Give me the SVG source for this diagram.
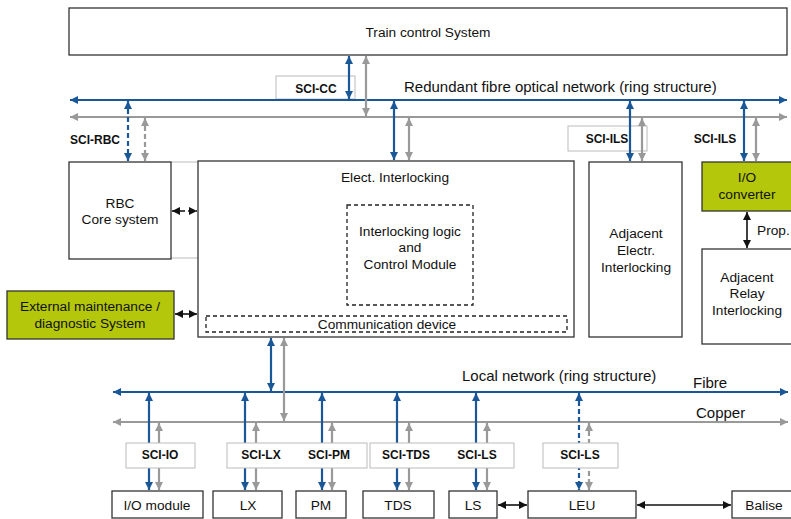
<svg xmlns="http://www.w3.org/2000/svg" width="791" height="519" viewBox="0 0 791 519">
<defs>
<marker id="ab" viewBox="0 0 8 8" refX="8" refY="4" markerWidth="8" markerHeight="8" markerUnits="userSpaceOnUse" orient="auto-start-reverse"><path d="M0,0 L8,4 L0,8 z" fill="#1a5797"/></marker>
<marker id="ag" viewBox="0 0 8 8" refX="8" refY="4" markerWidth="8" markerHeight="8" markerUnits="userSpaceOnUse" orient="auto-start-reverse"><path d="M0,0 L8,4 L0,8 z" fill="#999"/></marker>
<marker id="ak" viewBox="0 0 8 8" refX="8" refY="4" markerWidth="8" markerHeight="8" markerUnits="userSpaceOnUse" orient="auto-start-reverse"><path d="M0,0 L8,4 L0,8 z" fill="#111"/></marker>
<style>
.box{fill:#fff;stroke:#333;stroke-width:1.3}
.grn{fill:#b4c70b;stroke:#333;stroke-width:1.3}
.dash{fill:none;stroke:#222;stroke-width:1.3;stroke-dasharray:4,3}
.lbl{fill:#fff;stroke:#bbb;stroke-width:1}
.b{stroke:#1a5797;stroke-width:2.2;fill:none;marker-start:url(#ab);marker-end:url(#ab)}
.g{stroke:#999;stroke-width:2.2;fill:none;marker-start:url(#ag);marker-end:url(#ag)}
.k{stroke:#111;stroke-width:1.6;fill:none;marker-start:url(#ak);marker-end:url(#ak)}
.d{stroke-dasharray:5,3}
text{font-family:"Liberation Sans",Arial,sans-serif;font-size:13.7px;fill:#111;text-anchor:middle;dominant-baseline:central}
.s{font-weight:bold;font-size:12px}
.l{text-anchor:start}
.big{font-size:15px}
</style>
</defs>

<g id="train-control"><rect class="box" x="69" y="8" width="718" height="47"/><text x="428" y="32">Train control System</text></g>
<g id="sci-cc"><rect class="lbl" x="276" y="76" width="79" height="23"/><text class="s" x="316" y="89">SCI-CC</text></g>
<g id="sci-ils-1"><rect class="lbl" x="568" y="126" width="79" height="25"/><text class="s" x="607" y="139">SCI-ILS</text></g>
<g id="rbc-link"><line x1="171" y1="162" x2="198" y2="162" stroke="#bbb"/><line x1="171" y1="258" x2="198" y2="258" stroke="#bbb"/></g>
<g id="rbc"><rect class="box" x="69" y="162" width="102" height="97"/><text x="120" y="203">RBC</text><text x="120" y="219">Core system</text></g>
<g id="elect-interlocking"><rect class="box" x="198" y="161" width="376" height="176"/><text x="395" y="177">Elect. Interlocking</text></g>
<g id="interlocking-logic"><rect class="dash" x="347" y="205" width="126" height="100"/><text x="410" y="231">Interlocking logic</text><text x="410" y="247">and</text><text x="410" y="264">Control Module</text></g>
<g id="communication-device"><rect class="dash" x="206" y="316" width="361" height="16"/><text x="387" y="324">Communication device</text></g>
<g id="external-maintenance"><rect class="grn" x="7" y="291" width="167" height="48"/><text x="90" y="306">External maintenance /</text><text x="90" y="323">diagnostic System</text></g>
<g id="adjacent-electr"><rect class="box" x="589" y="162" width="93" height="175"/><text x="636" y="233">Adjacent</text><text x="636" y="250">Electr.</text><text x="636" y="267">Interlocking</text></g>
<g id="io-converter"><rect class="grn" x="702" y="162" width="95" height="49"/><text x="747" y="177">I/O</text><text x="747" y="194">converter</text></g>
<g id="adjacent-relay"><rect class="box" x="702" y="249" width="95" height="95"/><text x="747" y="277">Adjacent</text><text x="747" y="293">Relay</text><text x="747" y="310">Interlocking</text></g>

<g id="io-module"><rect class="box" x="112" y="491" width="91" height="27"/><text x="157" y="505">I/O module</text></g>
<g id="lx"><rect class="box" x="213" y="491" width="69" height="27"/><text x="248" y="505">LX</text></g>
<g id="pm"><rect class="box" x="296" y="491" width="50" height="27"/><text x="321" y="505">PM</text></g>
<g id="tds"><rect class="box" x="363" y="491" width="71" height="27"/><text x="398" y="505">TDS</text></g>
<g id="ls"><rect class="box" x="449" y="491" width="48" height="27"/><text x="473" y="505">LS</text></g>
<g id="leu"><rect class="box" x="528" y="491" width="108" height="27"/><text x="582" y="505">LEU</text></g>
<g id="balise"><rect class="box" x="732" y="491" width="62" height="27"/><text x="764" y="505">Balise</text></g>

<g id="labels">
<text class="l big" x="404" y="86">Redundant fibre optical network (ring structure)</text>
<text class="s" x="95" y="140">SCI-RBC</text>
<text class="s" x="715" y="139">SCI-ILS</text>
<text class="l" x="757" y="230">Prop.</text>
<text class="l big" x="462" y="375">Local network (ring structure)</text>
<text class="l big" x="693" y="382">Fibre</text>
<text class="l big" x="696" y="412">Copper</text>
</g>

<g id="connectors">
<line class="b" x1="70" y1="100" x2="787" y2="100"/>
<line class="g" x1="70" y1="117" x2="787" y2="117"/>
<line class="b" x1="349" y1="56" x2="349" y2="99"/>
<line class="g" x1="366" y1="56" x2="366" y2="116"/>
<line class="b d" x1="128" y1="101" x2="128" y2="161"/>
<line class="g d" x1="145" y1="118" x2="145" y2="161"/>
<line class="b" x1="394" y1="101" x2="394" y2="160"/>
<line class="g" x1="409" y1="118" x2="409" y2="160"/>
<line class="b" x1="630" y1="101" x2="630" y2="161"/>
<line class="g" x1="642" y1="118" x2="642" y2="161"/>
<line class="b" x1="744" y1="101" x2="744" y2="161"/>
<line class="g" x1="756" y1="118" x2="756" y2="161"/>
<line class="k d" x1="172" y1="211" x2="197" y2="211"/>
<line class="k" x1="175" y1="314" x2="197" y2="314"/>
<line class="k" x1="747" y1="212" x2="747" y2="248"/>

<line class="b" x1="113" y1="392" x2="788" y2="392"/>
<line class="g" x1="113" y1="422" x2="788" y2="422"/>
<line class="b" x1="271" y1="338" x2="271" y2="391"/>
<line class="g" x1="284" y1="338" x2="284" y2="421"/>
<line class="b" x1="149" y1="393" x2="149" y2="490"/>
<line class="g" x1="159" y1="423" x2="159" y2="490"/>
<line class="b" x1="245" y1="393" x2="245" y2="490"/>
<line class="g" x1="256" y1="423" x2="256" y2="490"/>
<line class="b" x1="322" y1="393" x2="322" y2="490"/>
<line class="g" x1="332" y1="423" x2="332" y2="490"/>
<line class="b" x1="397" y1="393" x2="397" y2="490"/>
<line class="g" x1="409" y1="423" x2="409" y2="490"/>
<line class="b" x1="476" y1="393" x2="476" y2="490"/>
<line class="g" x1="487" y1="423" x2="487" y2="490"/>
<line class="b d" x1="579" y1="393" x2="579" y2="490"/>
<line class="g d" x1="589" y1="423" x2="589" y2="490"/>
<line class="k" x1="498" y1="505" x2="527" y2="505"/>
<line class="k" x1="637" y1="505" x2="731" y2="505"/>
</g>

<g id="sci-io"><rect class="lbl" x="126" y="443" width="69" height="25"/><text class="s" x="160" y="455">SCI-IO</text></g>
<g id="sci-lx-pm"><rect class="lbl" x="227" y="443" width="140" height="25"/><text class="s" x="261" y="455">SCI-LX</text><text class="s" x="329" y="455">SCI-PM</text></g>
<g id="sci-tds-ls"><rect class="lbl" x="370" y="443" width="144" height="25"/><text class="s" x="406" y="455">SCI-TDS</text><text class="s" x="477" y="455">SCI-LS</text></g>
<g id="sci-ls-leu"><rect class="lbl" x="543" y="443" width="75" height="25"/><text class="s" x="580" y="455">SCI-LS</text></g>
</svg>
